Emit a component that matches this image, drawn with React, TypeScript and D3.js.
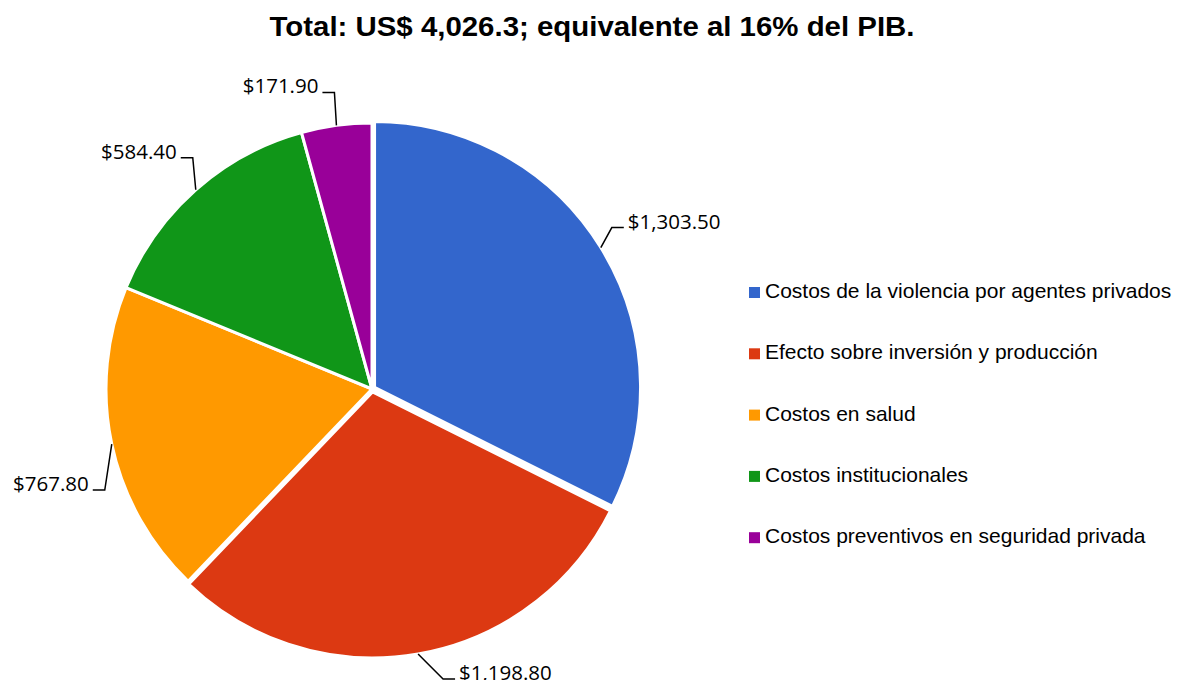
import React from 'react';
import * as d3 from 'd3';

const categories = [
  'Costos de la violencia por agentes privados',
  'Efecto sobre inversión y producción',
  'Costos en salud',
  'Costos institucionales',
  'Costos preventivos en seguridad privada',
];
const values = [1303.5, 1198.8, 767.8, 584.4, 171.9];
const valueLabels = ['$1,303.50', '$1,198.80', '$767.80', '$584.40', '$171.90'];
const colors = ['#3366CC', '#DC3912', '#FF9900', '#109618', '#990099'];
const title = 'Total: US$ 4,026.3; equivalente al 16% del PIB.';

// layout (not data)
const W = 1180;
const H = 680;
const cx = 372;
const cy = 389;
const R = 266;
const explode = [3, 3, 0, 0, 0];
const leaderElbow = [
  { dx: 11, dy: -20, side: 1 },
  { dx: 25, dy: 25, side: 1 },
  { dx: -7, dy: 46, side: -1 },
  { dx: -3, dy: -32, side: -1 },
  { dx: -2, dy: -33, side: -1 },
];

export default function App() {
  const pie = d3.pie<number>().sort(null).value((d) => d)(values);
  const arc = d3.arc<d3.PieArcDatum<number>>().innerRadius(0).outerRadius(R);

  return (
    <svg
      width={W}
      height={H}
      style={{ position: 'absolute', left: 0, top: 0, background: '#fff' }}
    >
      <text
        x={592}
        y={36}
        textAnchor="middle"
        fontFamily="'Liberation Sans', Arial, sans-serif"
        fontWeight="bold"
        fontSize={27}
        textLength={645}
        lengthAdjust="spacingAndGlyphs"
        fill="#000"
      >
        {title}
      </text>
      <g transform={`translate(${cx},${cy})`}>
        {pie.map((p, i) => {
          const mid = (p.startAngle + p.endAngle) / 2;
          const ox = Math.sin(mid) * explode[i];
          const oy = -Math.cos(mid) * explode[i];
          return (
            <path
              key={i}
              d={arc(p) || ''}
              transform={`translate(${ox},${oy})`}
              fill={colors[i]}
              stroke="#fff"
              strokeWidth={3}
              strokeLinejoin="miter"
            />
          );
        })}
        {pie.map((p, i) => {
          const mid = (p.startAngle + p.endAngle) / 2;
          const ax = Math.sin(mid) * (R + explode[i]);
          const ay = -Math.cos(mid) * (R + explode[i]);
          const L = leaderElbow[i];
          const ex = ax + L.dx;
          const ey = ay + L.dy;
          const hx = ex + L.side * 12;
          return (
            <g key={'l' + i}>
              <polyline
                points={`${ax},${ay} ${ex},${ey} ${hx},${ey}`}
                fill="none"
                stroke="#000"
                strokeWidth={1.5}
              />
              <text
                x={hx + L.side * 4}
                y={ey + 1}
                textAnchor={L.side > 0 ? 'start' : 'end'}
                fontFamily="'Open Sans', sans-serif"
                fontSize={20.5}
                fill="#000"
              >
                {valueLabels[i]}
              </text>
            </g>
          );
        })}
      </g>
      <g fontFamily="'Liberation Sans', Arial, sans-serif" fontSize={21}>
        {categories.map((c, i) => {
          const by = 298 + i * 61.3;
          return (
            <g key={c}>
              <rect x={749} y={by - 11} width={11} height={11} fill={colors[i]} />
              <text x={765} y={by} fill="#000">
                {c}
              </text>
            </g>
          );
        })}
      </g>
    </svg>
  );
}
